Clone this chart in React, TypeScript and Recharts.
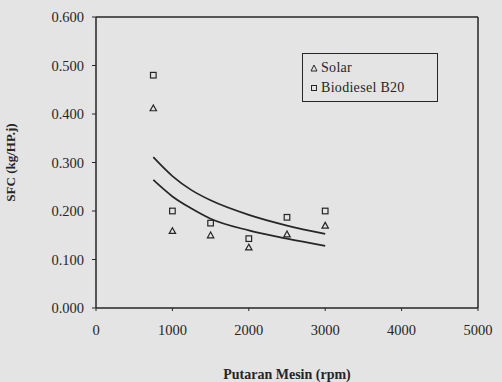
import React from "react";
import {
  ComposedChart,
  Line,
  Scatter,
  XAxis,
  YAxis,
  ReferenceLine,
  Label,
} from "recharts";

const rpmPoints = [750, 1000, 1500, 2000, 2500, 3000];
const solarSfc = [0.412, 0.159, 0.15, 0.125, 0.152, 0.17];
const biodieselSfc = [0.48, 0.2, 0.175, 0.143, 0.187, 0.2];

const trendRpm = [750, 1000, 1250, 1500, 2000, 2500, 3000];
const trendUpper = [0.311, 0.272, 0.243, 0.222, 0.192, 0.17, 0.153];
const trendLower = [0.264, 0.23, 0.205, 0.184, 0.16, 0.143, 0.128];

const xTicks = [0, 1000, 2000, 3000, 4000, 5000];
const yTicks = [0, 0.1, 0.2, 0.3, 0.4, 0.5, 0.6];

const solarData = rpmPoints.map((x, i) => ({ x, y: solarSfc[i] }));
const bioData = rpmPoints.map((x, i) => ({ x, y: biodieselSfc[i] }));
const upperData = trendRpm.map((x, i) => ({ x, y: trendUpper[i] }));
const lowerData = trendRpm.map((x, i) => ({ x, y: trendLower[i] }));

const INK = "#262626";
const FONT = "'Liberation Serif', 'DejaVu Serif', serif";

const Triangle = (props: any) => {
  const { cx, cy } = props;
  if (cx == null || cy == null) return null;
  const s = 3.2;
  return (
    <polygon
      points={`${cx},${cy - s} ${cx - s},${cy + s * 0.8} ${cx + s},${cy + s * 0.8}`}
      fill="none"
      stroke={INK}
      strokeWidth={1.2}
    />
  );
};

const Square = (props: any) => {
  const { cx, cy } = props;
  if (cx == null || cy == null) return null;
  const s = 2.8;
  return (
    <rect
      x={cx - s}
      y={cy - s}
      width={s * 2}
      height={s * 2}
      fill="none"
      stroke={INK}
      strokeWidth={1.2}
    />
  );
};

const LegendBox = () => (
  <div
    style={{
      position: "absolute",
      left: 302,
      top: 53,
      width: 136,
      height: 49,
      border: `1.5px solid ${INK}`,
      boxSizing: "border-box",
      fontFamily: FONT,
      fontSize: 14,
      letterSpacing: 0.3,
      color: INK,
      padding: "4px 0 0 7px",
    }}
  >
    <div style={{ display: "flex", alignItems: "center", height: 20 }}>
      <svg width={8} height={8} style={{ marginRight: 3 }}>
        <polygon points="4,1 1,7 7,7" fill="none" stroke={INK} strokeWidth={1} />
      </svg>
      Solar
    </div>
    <div style={{ display: "flex", alignItems: "center", height: 20 }}>
      <svg width={8} height={8} style={{ marginRight: 3 }}>
        <rect x={1.5} y={1.5} width={5} height={5} fill="none" stroke={INK} strokeWidth={1} />
      </svg>
      Biodiesel B20
    </div>
  </div>
);

export default function App() {
  return (
    <div
      style={{
        position: "absolute",
        left: 0,
        top: 0,
        width: 502,
        height: 382,
        background: "#e4e4e4",
      }}
    >
      <ComposedChart
        width={502}
        height={382}
        margin={{ top: 17, right: 24, left: 0, bottom: 0 }}
      >
        <XAxis
          type="number"
          dataKey="x"
          domain={[0, 5000]}
          ticks={xTicks}
          allowDataOverflow
          height={74}
          axisLine={{ stroke: INK, strokeWidth: 1.5 }}
          tickLine={{ stroke: INK }}
          tickSize={3}
          tick={{ fill: INK, fontSize: 14.5, fontFamily: FONT }}
          tickMargin={14}
        >
          <Label
            value="Putaran Mesin (rpm)"
            position="insideBottom"
            offset={3}
            style={{ fill: INK, fontSize: 14, fontWeight: "bold", fontFamily: FONT }}
          />
        </XAxis>
        <YAxis
          type="number"
          dataKey="y"
          domain={[0, 0.6]}
          ticks={yTicks}
          width={96}
          axisLine={{ stroke: INK, strokeWidth: 1.5 }}
          tickLine={{ stroke: INK }}
          tickSize={4}
          tickMargin={8}
          tickFormatter={(v: number) => v.toFixed(3)}
          tick={{ fill: INK, fontSize: 14.5, fontFamily: FONT }}
        >
          <Label
            value="SFC (kg/HP.j)"
            angle={-90}
            position="insideLeft"
            offset={10}
            style={{
              fill: INK,
              fontSize: 13,
              fontWeight: "bold",
              fontFamily: FONT,
              textAnchor: "middle",
            }}
          />
        </YAxis>
        <ReferenceLine y={0.6} stroke={INK} strokeWidth={1.5} />
        <ReferenceLine x={5000} stroke={INK} strokeWidth={1.5} />
        <Line
          data={upperData}
          dataKey="y"
          type="monotone"
          stroke={INK}
          strokeWidth={1.7}
          dot={false}
          activeDot={false}
          isAnimationActive={false}
        />
        <Line
          data={lowerData}
          dataKey="y"
          type="monotone"
          stroke={INK}
          strokeWidth={1.7}
          dot={false}
          activeDot={false}
          isAnimationActive={false}
        />
        <Scatter
          name="Solar"
          data={solarData}
          dataKey="y"
          shape={<Triangle />}
          isAnimationActive={false}
        />
        <Scatter
          name="Biodiesel B20"
          data={bioData}
          dataKey="y"
          shape={<Square />}
          isAnimationActive={false}
        />
      </ComposedChart>
      <LegendBox />
    </div>
  );
}
